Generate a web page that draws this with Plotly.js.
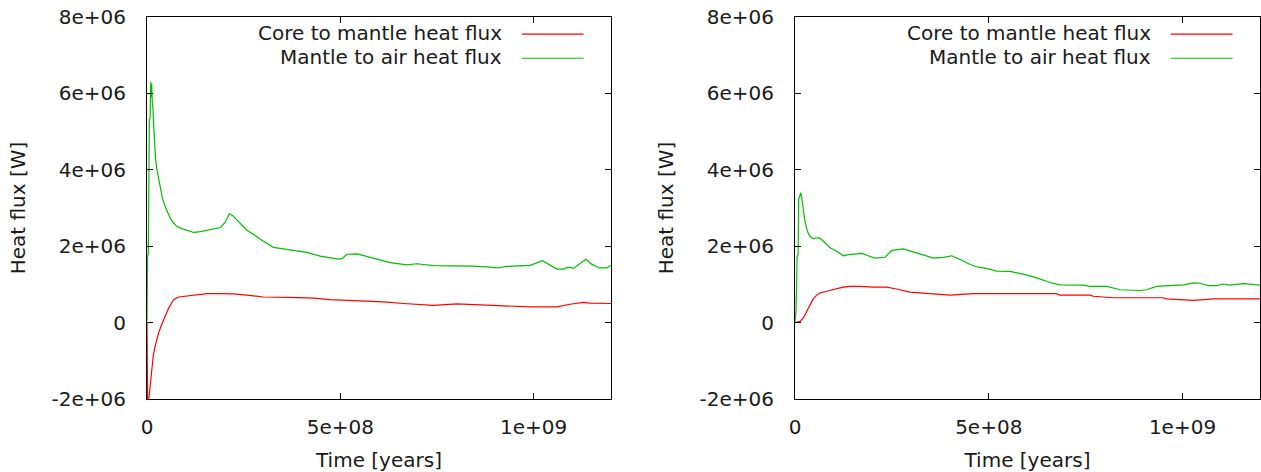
<!DOCTYPE html>
<html><head><meta charset="utf-8">
<script src="https://cdn.plot.ly/plotly-3.0.1.min.js"></script>
<style>html,body{margin:0;padding:0;background:#fff}#chart{width:1261px;height:472px}</style>
</head><body><div id="chart"></div>
<script>
// ---- Left panel ----
const leftCoreTime = [0, 1.5e6, 5e6, 7e6, 9e6, 12e6, 16e6, 21e6, 25e6, 30e6, 38e6, 43e6, 50e6, 56e6, 64e6, 69e6, 82e6, 103e6, 129e6, 155e6, 190e6, 224e6, 258e6, 301e6, 370e6, 431e6, 474e6, 551e6, 612e6, 663e6, 741e6, 801e6, 861e6, 913e6, 991e6, 1060e6, 1094e6, 1128e6, 1146e6, 1200e6];
const leftCoreFlux = [0, -1.98e6, -1.98e6, -1.75e6, -1.5e6, -1.15e6, -0.88e6, -0.62e6, -0.45e6, -0.27e6, -0.05e6, 0.08e6, 0.25e6, 0.38e6, 0.52e6, 0.6e6, 0.67e6, 0.7e6, 0.73e6, 0.76e6, 0.76e6, 0.75e6, 0.72e6, 0.67e6, 0.66e6, 0.64e6, 0.6e6, 0.57e6, 0.54e6, 0.5e6, 0.45e6, 0.49e6, 0.47e6, 0.44e6, 0.41e6, 0.41e6, 0.48e6, 0.53e6, 0.51e6, 0.5e6];
const leftAirTime = [0, 1.3e6, 3.4e6, 6e6, 8e6, 9.5e6, 11e6, 12e6, 13.5e6, 15.5e6, 17e6, 19e6, 22e6, 25.8e6, 30e6, 34.5e6, 40e6, 47e6, 54e6, 60e6, 68e6, 77e6, 90e6, 105e6, 121e6, 138e6, 155e6, 175e6, 190e6, 202e6, 213e6, 222e6, 241e6, 258e6, 280e6, 301e6, 327e6, 353e6, 379e6, 413e6, 448e6, 474e6, 495e6, 505e6, 517e6, 543e6, 568e6, 594e6, 629e6, 672e6, 698e6, 741e6, 801e6, 844e6, 887e6, 905e6, 930e6, 991e6, 1023e6, 1042e6, 1060e6, 1077e6, 1090e6, 1103e6, 1120e6, 1135e6, 1150e6, 1170e6, 1189e6, 1200e6];
const leftAirFlux = [0.05e6, 1.74e6, 1.78e6, 5.3e6, 5.35e6, 6.3e6, 5.9e6, 6.25e6, 5.8e6, 5.6e6, 5.2e6, 4.78e6, 4.3e6, 4.0e6, 3.75e6, 3.5e6, 3.25e6, 3.04e6, 2.88e6, 2.73e6, 2.62e6, 2.52e6, 2.46e6, 2.42e6, 2.36e6, 2.38e6, 2.42e6, 2.46e6, 2.49e6, 2.62e6, 2.85e6, 2.8e6, 2.59e6, 2.42e6, 2.28e6, 2.13e6, 1.97e6, 1.93e6, 1.9e6, 1.84e6, 1.74e6, 1.69e6, 1.66e6, 1.68e6, 1.79e6, 1.8e6, 1.73e6, 1.65e6, 1.57e6, 1.51e6, 1.54e6, 1.49e6, 1.48e6, 1.48e6, 1.45e6, 1.43e6, 1.47e6, 1.5e6, 1.62e6, 1.5e6, 1.4e6, 1.4e6, 1.45e6, 1.42e6, 1.55e6, 1.66e6, 1.53e6, 1.43e6, 1.43e6, 1.5e6];

// ---- Right panel ----
const rightCoreTime = [0, 13e6, 21.5e6, 30e6, 38.7e6, 47e6, 56e6, 65e6, 82e6, 98e6, 124e6, 142e6, 168e6, 202e6, 237e6, 262e6, 297e6, 348e6, 400e6, 460e6, 546e6, 675e6, 684e6, 761e6, 770e6, 821e6, 950e6, 959e6, 1028e6, 1080e6, 1200e6];
const rightCoreFlux = [0, 0.03e6, 0.12e6, 0.3e6, 0.47e6, 0.62e6, 0.72e6, 0.78e6, 0.82e6, 0.86e6, 0.93e6, 0.95e6, 0.95e6, 0.93e6, 0.93e6, 0.88e6, 0.8e6, 0.76e6, 0.72e6, 0.76e6, 0.76e6, 0.76e6, 0.72e6, 0.72e6, 0.69e6, 0.65e6, 0.65e6, 0.62e6, 0.58e6, 0.62e6, 0.62e6];
const rightAirTime = [0, 2.6e6, 4e6, 5.5e6, 8e6, 9.5e6, 12e6, 14.7e6, 17e6, 19e6, 21.4e6, 25.8e6, 31.8e6, 38.7e6, 47.3e6, 56e6, 64.6e6, 73.1e6, 90.4e6, 107.7e6, 124.8e6, 137.7e6, 172.3e6, 188.6e6, 206.6e6, 232.5e6, 249.8e6, 279.7e6, 310e6, 331.4e6, 357.2e6, 383e6, 404.7e6, 426e6, 452e6, 473e6, 503e6, 520e6, 555e6, 589e6, 624e6, 658e6, 684e6, 744e6, 761e6, 804e6, 839e6, 890e6, 907e6, 933e6, 968e6, 1002e6, 1028e6, 1045e6, 1067e6, 1088e6, 1105e6, 1123e6, 1157e6, 1178e6, 1200e6];
const rightAirFlux = [0.03e6, 0.3e6, 0.95e6, 1.74e6, 1.78e6, 3.22e6, 3.3e6, 3.4e6, 3.3e6, 3.1e6, 2.96e6, 2.65e6, 2.39e6, 2.26e6, 2.19e6, 2.22e6, 2.21e6, 2.13e6, 1.96e6, 1.87e6, 1.75e6, 1.78e6, 1.81e6, 1.75e6, 1.69e6, 1.71e6, 1.89e6, 1.93e6, 1.84e6, 1.78e6, 1.69e6, 1.71e6, 1.75e6, 1.65e6, 1.52e6, 1.45e6, 1.4e6, 1.35e6, 1.34e6, 1.27e6, 1.17e6, 1.05e6, 0.99e6, 0.98e6, 0.95e6, 0.95e6, 0.86e6, 0.84e6, 0.86e6, 0.95e6, 0.97e6, 0.99e6, 1.04e6, 1.03e6, 0.97e6, 0.97e6, 1.01e6, 0.98e6, 1.02e6, 1.01e6, 0.98e6];

// ---- Axis ticks and labels ----
const yTickVals = [-2e6, 0, 2e6, 4e6, 6e6, 8e6];
const yTickText = ['-2e+06', '0', '2e+06', '4e+06', '6e+06', '8e+06'];
const xTickVals = [0, 5e8, 1e9];
const xTickText = ['0', '5e+08', '1e+09'];
const seriesNames = ['Core to mantle heat flux', 'Mantle to air heat flux'];
const seriesColors = ['#ff0000', '#00c000'];
const xTitle = 'Time [years]';
const yTitle = 'Heat flux [W]';

const FONT = 'DejaVu Sans, Verdana, sans-serif';
const TXT = '#1a1a1a';

const traces = [
  {x: leftCoreTime, y: leftCoreFlux, xaxis: 'x', yaxis: 'y', name: seriesNames[0], mode: 'lines', line: {color: seriesColors[0], width: 1.2}},
  {x: leftAirTime, y: leftAirFlux, xaxis: 'x', yaxis: 'y', name: seriesNames[1], mode: 'lines', line: {color: seriesColors[1], width: 1.2}},
  {x: rightCoreTime, y: rightCoreFlux, xaxis: 'x2', yaxis: 'y2', name: seriesNames[0], mode: 'lines', line: {color: seriesColors[0], width: 1.2}},
  {x: rightAirTime, y: rightAirFlux, xaxis: 'x2', yaxis: 'y2', name: seriesNames[1], mode: 'lines', line: {color: seriesColors[1], width: 1.2}}
];

function xAxis(domain, anchor) {
  return {
    domain: domain, anchor: anchor, range: [0, 1.2e9], tickmode: 'array', tickvals: xTickVals, ticktext: xTickText,
    ticks: 'inside', ticklen: 6, tickcolor: '#000', tickwidth: 1, mirror: 'allticks', showline: true, linecolor: '#000', linewidth: 1,
    showgrid: false, zeroline: false, tickfont: {family: FONT, size: 20, color: TXT}, ticklabelstandoff: 10,
    title: {text: xTitle, font: {family: FONT, size: 20, color: TXT}, standoff: 14}, automargin: false, fixedrange: true
  };
}
function yAxis(anchor) {
  return {
    domain: [0, 1], anchor: anchor, range: [-2e6, 8e6], tickmode: 'array', tickvals: yTickVals, ticktext: yTickText,
    ticks: 'inside', ticklen: 6, tickcolor: '#000', tickwidth: 1, mirror: 'allticks', showline: true, linecolor: '#000', linewidth: 1,
    showgrid: false, zeroline: false, tickfont: {family: FONT, size: 20, color: TXT}, ticklabelstandoff: 16,
    title: {text: yTitle, font: {family: FONT, size: 20, color: TXT}, standoff: 20}, automargin: false, fixedrange: true
  };
}

const W = 1261, H = 472, ML = 147, MR = 1, MT = 17, MB = 73;
const PW = W - ML - MR;
const leftDom = [0, (611 - ML) / PW];
const rightDom = [(795 - ML) / PW, 1];

const annotations = [];
const shapes = [];
[['x', 'y'], ['x2', 'y2']].forEach(([xa, ya]) => {
  const rows = [0.958, 0.895];
  seriesNames.forEach((nm, i) => {
    annotations.push({xref: xa + ' domain', yref: ya + ' domain', x: 0.770, y: rows[i], xanchor: 'right', yanchor: 'middle',
      text: nm, showarrow: false, font: {family: FONT, size: 20, color: TXT}});
    shapes.push({type: 'line', xref: xa + ' domain', yref: ya + ' domain', x0: 0.808, x1: 0.941, y0: rows[i] - 0.003, y1: rows[i] - 0.003,
      line: {color: seriesColors[i], width: 1.2}});
  });
});

const layout = {
  width: W, height: H, margin: {l: ML, r: MR, t: MT, b: MB}, paper_bgcolor: '#fff', plot_bgcolor: '#fff',
  showlegend: false, font: {family: FONT, size: 20, color: TXT},
  xaxis: xAxis(leftDom, 'y'), yaxis: yAxis('x'),
  xaxis2: xAxis(rightDom, 'y2'), yaxis2: yAxis('x2'),
  annotations: annotations, shapes: shapes
};
Plotly.newPlot('chart', traces, layout, {staticPlot: true, displayModeBar: false});
</script></body></html>
